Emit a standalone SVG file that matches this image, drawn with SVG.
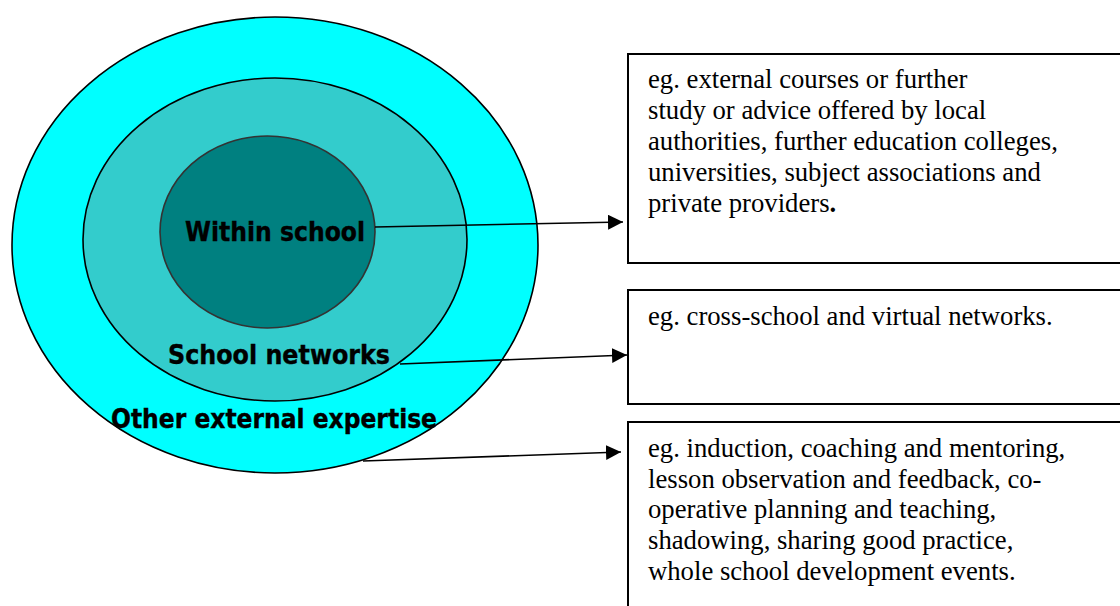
<svg xmlns="http://www.w3.org/2000/svg" width="1120" height="606" viewBox="0 0 1120 606">
<style>
.lbl{font-family:"DejaVu Sans","Verdana",sans-serif;font-weight:bold;font-size:27px;fill:#000;stroke:#000;stroke-width:0.4}
.box{fill:#fff;stroke:#000;stroke-width:2}
.txt{font-family:"Liberation Serif","Times New Roman",serif;font-size:26.7px;fill:#000}
.con{stroke:#000;stroke-width:1.6;fill:none}
</style>
<defs>
<marker id="arr" markerUnits="userSpaceOnUse" markerWidth="16" markerHeight="16" refX="15" refY="7.5" orient="auto">
<path d="M0,0 L15,7.5 L0,15 z" fill="#000"/>
</marker>
</defs>
<rect width="1120" height="606" fill="#fff"/>
<g id="outer">
<ellipse cx="275" cy="245" rx="263" ry="228" fill="#00FFFF" stroke="#000" stroke-width="1.6"/>
</g>
<g id="middle">
<ellipse cx="275" cy="239.5" rx="192" ry="161.5" fill="#33CCCC" stroke="#000" stroke-width="1.6"/>
</g>
<g id="inner">
<ellipse cx="267.5" cy="232" rx="107.5" ry="96" fill="#008080" stroke="#333" stroke-width="1.6"/>
</g>
<g id="labels">
<text class="lbl" x="185" y="241" textLength="180" lengthAdjust="spacingAndGlyphs">Within school</text>
<text class="lbl" x="168" y="364" textLength="222" lengthAdjust="spacingAndGlyphs">School networks</text>
<text class="lbl" x="111" y="428" textLength="326" lengthAdjust="spacingAndGlyphs">Other external expertise</text>
</g>
<g id="connectors">
<line class="con" x1="375" y1="227" x2="623" y2="222" marker-end="url(#arr)"/>
<line class="con" x1="400" y1="364" x2="627" y2="355" marker-end="url(#arr)"/>
<line class="con" x1="363" y1="461" x2="621" y2="452" marker-end="url(#arr)"/>
</g>
<g id="box1">
<rect class="box" x="628" y="54" width="500" height="209"/>
<text class="txt" x="648" y="88">eg. external courses or further</text>
<text class="txt" x="648" y="119">study or advice offered by local</text>
<text class="txt" x="648" y="150">authorities, further education colleges,</text>
<text class="txt" x="648" y="181">universities, subject associations and</text>
<text class="txt" x="648" y="212">private providers<tspan font-weight="bold">.</tspan></text>
</g>
<g id="box2">
<rect class="box" x="628" y="290" width="500" height="114"/>
<text class="txt" x="648" y="325">eg. cross-school and virtual networks.</text>
</g>
<g id="box3">
<rect class="box" x="628" y="422" width="500" height="200"/>
<text class="txt" x="648" y="457">eg. induction, coaching and mentoring,</text>
<text class="txt" x="648" y="488">lesson observation and feedback, co-</text>
<text class="txt" x="648" y="518">operative planning and teaching,</text>
<text class="txt" x="648" y="549">shadowing, sharing good practice,</text>
<text class="txt" x="648" y="580">whole school development events.</text>
</g>
</svg>
